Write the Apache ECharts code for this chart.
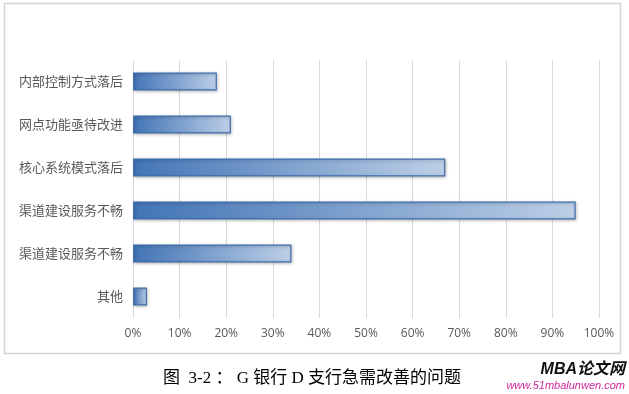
<!DOCTYPE html>
<html><head><meta charset="utf-8">
<script src="https://cdn.jsdelivr.net/npm/echarts@6/dist/echarts.min.js"></script>
<style>html,body{margin:0;padding:0;background:#fff;}#c{width:629px;height:394px;}</style>
</head><body><div id="c"></div>
<script>
const categories = ['内部控制方式落后','网点功能亟待改进','核心系统模式落后','渠道建设服务不畅','渠道建设服务不畅','其他'];
const values = [18, 21, 67, 95, 34, 3];
const tickLabels = ['0%','10%','20%','30%','40%','50%','60%','70%','80%','90%','100%'];
const caption = '图  3-2 ： G 银行 D 支行急需改善的问题';

const chart = echarts.init(document.getElementById('c'));
chart.setOption({
  animation: false,
  backgroundColor: '#fff',
  grid: {left: 133, right: 30, top: 60, bottom: 76, containLabel: false},
  xAxis: {
    type: 'value', min: 0, max: 100, interval: 10,
    axisLine: {show: false}, axisTick: {show: false},
    splitLine: {lineStyle: {color: '#d9d9d9', width: 1}},
    axisLabel: {color: '#595959', fontSize: 12, fontFamily: 'Open Sans, sans-serif', margin: 10,
      formatter: (v) => tickLabels[Math.round(v / 10)]}
  },
  yAxis: {
    type: 'category', inverse: true, data: categories,
    axisLine: {show: false}, axisTick: {show: false},
    axisLabel: {color: '#595959', fontSize: 13, fontFamily: 'Noto Sans CJK SC', margin: 10}
  },
  series: [{
    type: 'bar', data: values, barWidth: 18,
    itemStyle: {
      color: new echarts.graphic.LinearGradient(0, 0, 1, 0, [
        {offset: 0, color: '#4274b6'}, {offset: 1, color: '#bccfe6'}]),
      borderColor: '#3f6ead', borderWidth: 1.2,
      shadowColor: 'rgba(0,0,0,0.25)', shadowBlur: 3, shadowOffsetX: 1, shadowOffsetY: 1
    }
  }],
  graphic: [
    {type: 'rect', shape: {x: 4.5, y: 3.5, width: 616, height: 350}, style: {fill: 'none', stroke: '#d4d4d4', lineWidth: 1.5}, z: -1},
    {type: 'text', x: 312, y: 379, style: {text: caption, font: '17px "Liberation Serif", "Noto Sans CJK SC", serif', fill: '#000', align: 'center', verticalAlign: 'middle'}},
    {type: 'text', right: 4, top: 362, style: {text: 'MBA论文网', font: 'italic bold 16px "Liberation Sans", "Noto Sans CJK SC", sans-serif', fill: '#111'}},
    {type: 'text', right: 4, top: 380, style: {text: 'www.51mbalunwen.com', font: 'italic 11px "Liberation Sans", sans-serif', fill: '#d0269a'}}
  ]
});
</script></body></html>
